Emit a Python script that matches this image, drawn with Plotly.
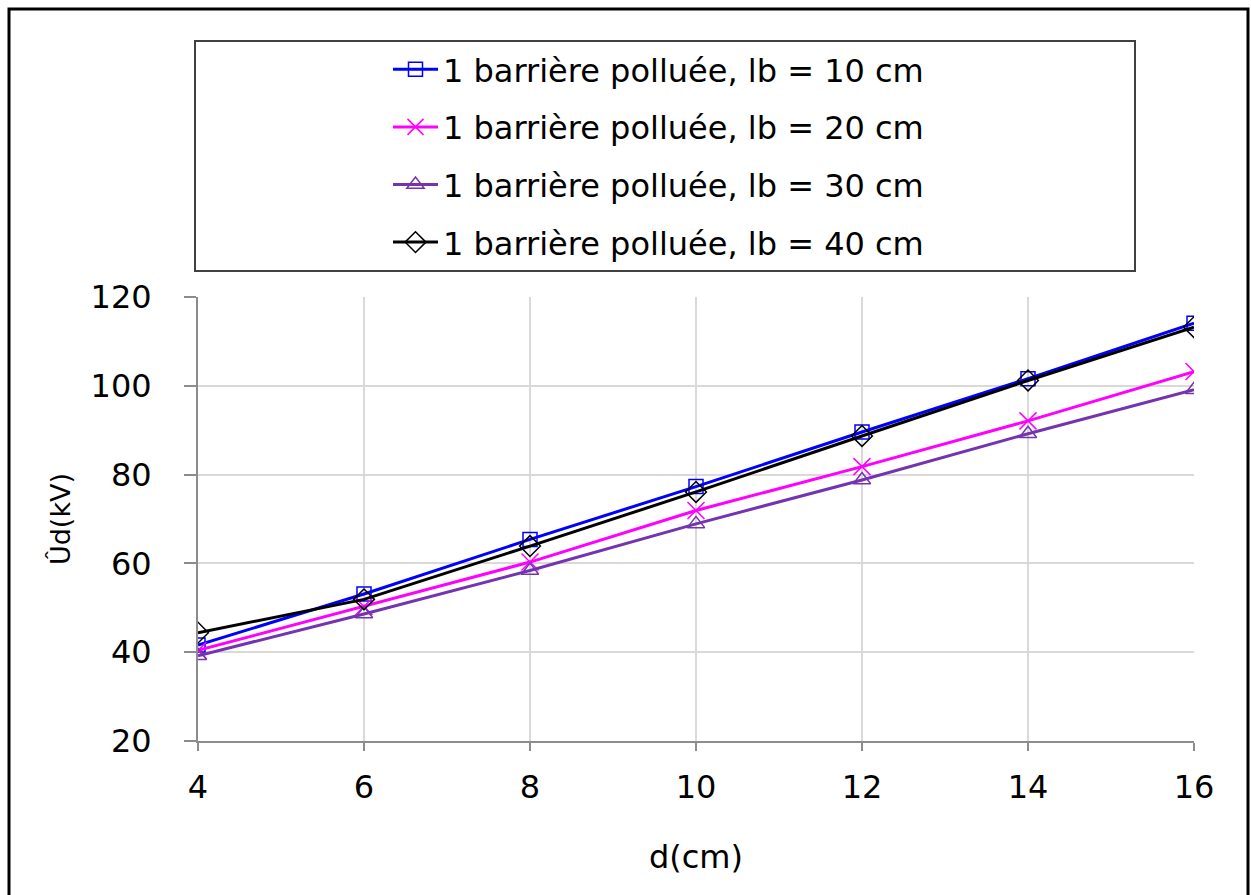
import plotly.graph_objects as go

d_cm = [4, 6, 8, 10, 12, 14, 16]
lb10 = [41.6, 53.1, 65.4, 77.3, 89.6, 101.6, 114.1]
lb20 = [40.4, 50.3, 60.3, 71.9, 81.8, 92.1, 103.2]
lb30 = [39.2, 48.6, 58.4, 68.9, 78.8, 89.2, 99.1]
lb40 = [44.4, 51.9, 63.9, 76.1, 88.7, 101.2, 113.2]

names = ["1 barrière polluée, lb = 10 cm", "1 barrière polluée, lb = 20 cm",
         "1 barrière polluée, lb = 30 cm", "1 barrière polluée, lb = 40 cm"]
series = [lb10, lb20, lb30, lb40]
colors = ["#0000FF", "#FF00FF", "#7434B0", "#000000"]
symbols = ["square-open", "x-thin-open", "triangle-up-open", "diamond-open"]
sizes = [14, 17, 15, 16]

FONT = "DejaVu Sans"
FS = 32

fig = go.Figure()
for i, (nm, ys) in enumerate(zip(names, series)):
    fig.add_trace(go.Scatter(
        x=d_cm, y=ys, name=nm, mode="lines+markers", legendgroup=f"g{i}",
        line=dict(color=colors[i], width=3),
        marker=dict(symbol=symbols[i], size=sizes[i], color=colors[i],
                    line=dict(color=colors[i], width=1.5)),
    ))

W, H = 1251, 895
L, R, T, B = 198, 57, 297, 154
pw, ph = W - L - R, H - T - B

def px(x):
    return (x - L) / pw

def py(y):
    return (H - B - y) / ph

fig.update_layout(
    width=W, height=H,
    margin=dict(l=L, r=R, t=T, b=B),
    paper_bgcolor="white", plot_bgcolor="white",
    font=dict(family=FONT, size=FS, color="black"),
    showlegend=True,
    legend=dict(x=px(388), y=py(42), xanchor="left", yanchor="top",
                bgcolor="rgba(0,0,0,0)", borderwidth=0,
                font=dict(family=FONT, size=FS, color="black"),
                tracegroupgap=13, itemwidth=45),
    xaxis=dict(range=[4, 16], tickvals=d_cm, showgrid=True, gridcolor="#D9D9D9",
               gridwidth=1.5, showline=True, linecolor="#8C8C8C", linewidth=2,
               ticks="outside", ticklen=8, tickcolor="#8C8C8C", tickwidth=2,
               ticklabelstandoff=9, zeroline=False,
               title=dict(text="d(cm)", font=dict(family=FONT, size=FS), standoff=40)),
    yaxis=dict(range=[20, 120], tickvals=[20, 40, 60, 80, 100, 120], showgrid=True,
               gridcolor="#D9D9D9", gridwidth=1.5, showline=True, linecolor="#8C8C8C",
               linewidth=2, ticks="outside", ticklen=12, tickcolor="#8C8C8C",
               tickwidth=2, ticklabelstandoff=26, zeroline=False,
               title=dict(text="Ûd(kV)", font=dict(family=FONT, size=27), standoff=12)),
    shapes=[
        dict(type="rect", xref="paper", yref="paper",
             x0=px(195), x1=px(1135), y0=py(271), y1=py(41),
             line=dict(color="#404040", width=2), fillcolor="rgba(0,0,0,0)", layer="below"),
        dict(type="rect", xref="paper", yref="paper",
             x0=px(9), x1=px(1248), y0=py(900), y1=py(9),
             line=dict(color="black", width=3), fillcolor="rgba(0,0,0,0)", layer="below"),
    ],
)

fig.write_html("out.html")
